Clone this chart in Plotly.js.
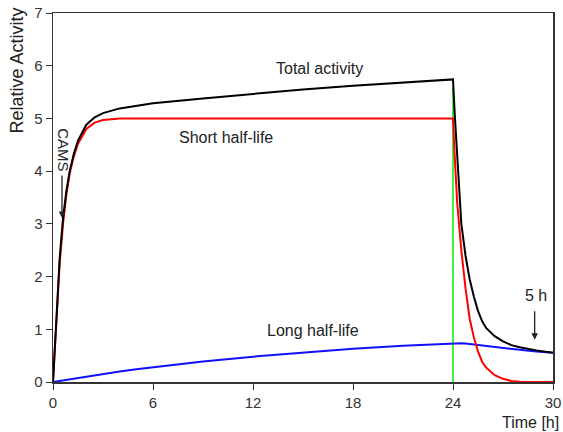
<!DOCTYPE html>
<html>
<head>
<meta charset="utf-8">
<script src="https://cdn.plot.ly/plotly-3.0.1.min.js"></script>
<style>html,body{margin:0;padding:0;background:#fff;}#chart{width:563px;height:432px;}</style>
</head>
<body>
<div id="chart"></div>
<script>
// Time in hours
var time = [0, 0.2, 0.4, 0.6, 0.8, 1.0, 1.25, 1.5, 2, 2.5, 3, 4, 5, 6, 9, 12, 15, 18, 21, 24,
            24.1, 24.25, 24.5, 24.75, 25, 25.25, 25.5, 25.75, 26, 26.5, 27, 27.5, 28, 29, 30];
var totalActivity = [0, 1.2, 2.35, 3.1, 3.62, 4.0, 4.33, 4.58, 4.88, 5.02, 5.1, 5.19, 5.24, 5.29, 5.38, 5.47, 5.55, 5.62, 5.68, 5.74,
            5.1, 4.3, 3.0, 2.4, 1.95, 1.62, 1.35, 1.15, 1.02, 0.87, 0.77, 0.70, 0.66, 0.60, 0.556];
var shortHalfLife = [0, 1.15, 2.25, 3.0, 3.55, 3.95, 4.28, 4.52, 4.8, 4.92, 4.97, 5.0, 5.0, 5.0, 5.0, 5.0, 5.0, 5.0, 5.0, 5.0,
            4.3, 3.4, 2.5, 1.78, 1.2, 0.85, 0.58, 0.38, 0.27, 0.13, 0.06, 0.02, 0.005, 0, 0];
var longHalfLife = [0, 0.01, 0.02, 0.03, 0.04, 0.05, 0.06, 0.075, 0.1, 0.13, 0.16, 0.2, 0.24, 0.28, 0.39, 0.48, 0.56, 0.63, 0.69, 0.74,
            0.74, 0.74, 0.735, 0.73, 0.72, 0.71, 0.70, 0.69, 0.68, 0.66, 0.64, 0.62, 0.61, 0.58, 0.556];
// Marker line at end of treatment
var markerX = [24, 24];
var markerY = [0, 5.6];

var xTicks = [0, 6, 12, 18, 24, 30];
var yTicks = [0, 1, 2, 3, 4, 5, 6, 7];

var traces = [
  {x: markerX, y: markerY, mode: 'lines', line: {color: '#00ee00', width: 1.5}, hoverinfo: 'skip'},
  {x: time, y: longHalfLife, mode: 'lines', line: {color: '#1010ff', width: 2}, name: 'Long half-life'},
  {x: time, y: shortHalfLife, mode: 'lines', line: {color: '#ff0000', width: 2}, name: 'Short half-life'},
  {x: time, y: totalActivity, mode: 'lines', line: {color: '#000000', width: 2}, name: 'Total activity'}
];

var fam = 'Liberation Sans, Arial, sans-serif';
var txt = '#222';

var layout = {
  width: 563, height: 432,
  margin: {l: 53, r: 10, t: 13, b: 50},
  paper_bgcolor: '#fff', plot_bgcolor: '#fff',
  showlegend: false,
  font: {family: fam, color: txt, size: 15},
  xaxis: {
    range: [0, 30], tickvals: xTicks, ticktext: xTicks.map(String),
    showgrid: false, zeroline: false, showline: true, mirror: true,
    linecolor: '#333', linewidth: 1.5, ticks: 'outside', ticklen: 6, tickcolor: '#333',
    tickfont: {family: fam, size: 15, color: '#333'}
  },
  yaxis: {
    range: [0, 7], tickvals: yTicks, ticktext: yTicks.map(String),
    showgrid: false, zeroline: false, showline: true, mirror: true,
    linecolor: '#333', linewidth: 1.5, ticks: 'outside', ticklen: 6, tickcolor: '#333',
    tickfont: {family: fam, size: 15, color: '#333'}
  },
  annotations: [
    {xref: 'paper', yref: 'paper', x: -0.072, y: 1.02, xanchor: 'center', yanchor: 'top',
     text: 'Relative Activity', textangle: -90, showarrow: false, font: {family: fam, size: 18, color: txt}},
    {xref: 'paper', yref: 'paper', x: 1.016, y: -0.08, xanchor: 'right', yanchor: 'top',
     text: 'Time [h]', showarrow: false, font: {family: fam, size: 16, color: txt}},
    {x: 16, y: 5.95, text: 'Total activity', showarrow: false, font: {family: fam, size: 16, color: txt}},
    {x: 10.4, y: 4.63, text: 'Short half-life', showarrow: false, font: {family: fam, size: 16, color: txt}},
    {x: 15.6, y: 0.98, text: 'Long half-life', showarrow: false, font: {family: fam, size: 16, color: txt}},
    {x: 28.95, y: 1.65, text: '5 h', showarrow: false, font: {family: fam, size: 16, color: txt}},
    {x: 0.65, y: 4.4, text: 'CAMS', textangle: 90, showarrow: false, font: {family: fam, size: 15, color: txt}},
    {x: 0.54, y: 3.11, ax: 0, ay: -44, text: '', showarrow: true, arrowhead: 2, arrowsize: 1, arrowwidth: 1.3, arrowcolor: txt},
    {x: 28.9, y: 0.8, ax: 0, ay: -30, text: '', showarrow: true, arrowhead: 2, arrowsize: 1, arrowwidth: 1.3, arrowcolor: txt}
  ]
};

Plotly.newPlot('chart', traces, layout, {staticPlot: true, displayModeBar: false});
</script>
</body>
</html>
